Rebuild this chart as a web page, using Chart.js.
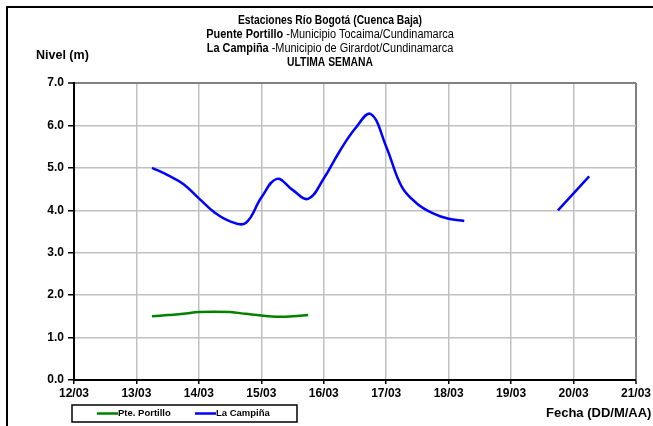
<!DOCTYPE html>
<html>
<head>
<meta charset="utf-8">
<script src="https://cdn.jsdelivr.net/npm/chart.js@4/dist/chart.umd.min.js"></script>
<style>
  html, body { margin: 0; padding: 0; background: #fff; }
  canvas { display: block; }
</style>
</head>
<body>
<canvas id="chart" width="653" height="426"></canvas>
<script>
// Tick labels for the x axis (days from 12/03 00:00)
const dateLabels = ['12/03', '13/03', '14/03', '15/03', '16/03', '17/03', '18/03', '19/03', '20/03', '21/03'];

// Pte. Portillo, every 6 hours
const portilloTimes = [1.25, 1.5, 1.75, 2.0, 2.25, 2.5, 2.75, 3.0, 3.25, 3.5, 3.75];
const portilloLevels = [1.50, 1.53, 1.56, 1.60, 1.61, 1.60, 1.56, 1.52, 1.49, 1.50, 1.53];

// La Campiña, every 6 hours (null = missing reading)
const campinaTimes = [1.25, 1.5, 1.75, 2.0, 2.25, 2.5, 2.75, 3.0, 3.25, 3.5, 3.75, 4.0, 4.25, 4.5, 4.75,
  5.0, 5.25, 5.5, 5.75, 6.0, 6.25, 7.0, 7.75, 8.0, 8.25];
const campinaLevels = [5.00, 4.83, 4.62, 4.28, 3.95, 3.74, 3.70, 4.30, 4.74, 4.48, 4.27, 4.75, 5.38, 5.92, 6.27,
  5.50, 4.55, 4.15, 3.93, 3.80, 3.75, null, 4.00, 4.40, 4.80];

const FONT = "'Liberation Sans', Arial, sans-serif";
const GREEN = '#008000';
const BLUE = '#0000ff';

function toPoints(times, levels) {
  return times.map((t, i) => ({ x: t, y: levels[i] }));
}

// draws "bold part" + "normal part" centred at cx
function mixedLine(ctx, cx, y, boldPart, normalPart, squeeze) {
  ctx.save();
  ctx.font = 'bold 12px ' + FONT;
  const w1 = ctx.measureText(boldPart).width;
  ctx.font = '12px ' + FONT;
  const w2 = normalPart ? ctx.measureText(normalPart).width : 0;
  const total = (w1 + w2) * squeeze;
  ctx.translate(cx - total / 2, y);
  ctx.scale(squeeze, 1);
  ctx.textBaseline = 'middle';
  ctx.textAlign = 'left';
  ctx.fillStyle = '#000';
  ctx.font = 'bold 12px ' + FONT;
  ctx.fillText(boldPart, 0, 0);
  if (normalPart) {
    ctx.font = '12px ' + FONT;
    ctx.fillText(normalPart, w1, 0);
  }
  ctx.restore();
}

const decorations = {
  id: 'decorations',
  afterDraw(chart) {
    const ctx = chart.ctx;
    // outer frame
    ctx.save();
    ctx.strokeStyle = '#000';
    ctx.lineWidth = 2;
    ctx.beginPath();
    ctx.moveTo(7, 430);
    ctx.lineTo(7, 7);
    ctx.lineTo(660, 7);
    ctx.stroke();
    ctx.restore();

    // title block
    const cx = 330;
    mixedLine(ctx, cx, 21, 'Estaciones Río Bogotá (Cuenca Baja)', '', 0.86);
    mixedLine(ctx, cx, 35, 'Puente Portillo', ' -Municipio Tocaima/Cundinamarca', 0.91);
    mixedLine(ctx, cx, 49, 'La Campiña', ' -Municipio de Girardot/Cundinamarca', 0.91);
    mixedLine(ctx, cx, 63, 'ULTIMA SEMANA', '', 0.86);

    // axis titles
    ctx.save();
    ctx.fillStyle = '#000';
    ctx.textBaseline = 'middle';
    ctx.font = 'bold 12.5px ' + FONT;
    ctx.textAlign = 'left';
    ctx.fillText('Nivel (m)', 36, 56);
    ctx.font = 'bold 13px ' + FONT;
    ctx.fillText('Fecha (DD/M/AA)', 546, 413);
    ctx.restore();

    // legend box
    ctx.save();
    ctx.strokeStyle = '#000';
    ctx.lineWidth = 1.5;
    ctx.strokeRect(72, 405, 225, 17);
    const items = [[GREEN, 'Pte. Portillo', 97], [BLUE, 'La Campiña', 195]];
    ctx.font = 'bold 9.5px ' + FONT;
    ctx.textBaseline = 'middle';
    ctx.fillStyle = '#000';
    items.forEach(([color, label, x]) => {
      ctx.strokeStyle = color;
      ctx.lineWidth = 2.5;
      ctx.beginPath();
      ctx.moveTo(x, 413.5);
      ctx.lineTo(x + 21, 413.5);
      ctx.stroke();
      ctx.fillText(label, x + 21, 413.5);
    });
    ctx.restore();
  }
};

new Chart(document.getElementById('chart'), {
  type: 'line',
  data: {
    datasets: [
      {
        label: 'Pte. Portillo',
        data: toPoints(portilloTimes, portilloLevels),
        borderColor: GREEN,
        borderWidth: 2.5,
        pointRadius: 0,
        tension: 0.4,
        fill: false
      },
      {
        label: 'La Campiña',
        data: toPoints(campinaTimes, campinaLevels),
        borderColor: BLUE,
        borderWidth: 2.5,
        pointRadius: 0,
        tension: 0.4,
        spanGaps: false,
        fill: false
      }
    ]
  },
  options: {
    responsive: false,
    animation: false,
    layout: { padding: { top: 83, right: 16, left: 0, bottom: 0 } },
    plugins: {
      legend: { display: false },
      tooltip: { enabled: false }
    },
    scales: {
      x: {
        type: 'linear',
        min: 0,
        max: 9,
        afterFit(scale) { scale.height = 46; },
        ticks: {
          stepSize: 1,
          maxRotation: 0,
          autoSkip: false,
          color: '#000',
          padding: 2,
          font: { family: FONT, size: 12, weight: 'bold' },
          callback: (v) => dateLabels[v]
        },
        grid: {
          color: (c) => (c.tick && c.tick.value === 9 ? '#808080' : '#c0c0c0'),
          lineWidth: (c) => (c.tick && c.tick.value === 9 ? 2 : 1.5),
          tickLength: 4,
          tickColor: '#000',
          tickWidth: 1.5
        },
        border: { color: '#000', width: 2 }
      },
      y: {
        min: 0,
        max: 7,
        afterFit(scale) { scale.width = 74; },
        ticks: {
          stepSize: 1,
          color: '#000',
          padding: 4,
          font: { family: FONT, size: 12, weight: 'bold' },
          callback: (v) => v.toFixed(1)
        },
        grid: {
          color: (c) => (c.tick && c.tick.value === 7 ? '#808080' : '#c0c0c0'),
          lineWidth: (c) => (c.tick && c.tick.value === 7 ? 2 : 1.5),
          tickLength: 6,
          tickColor: '#000',
          tickWidth: 1.5
        },
        border: { color: '#000', width: 2 }
      }
    }
  },
  plugins: [decorations]
});
</script>
</body>
</html>
